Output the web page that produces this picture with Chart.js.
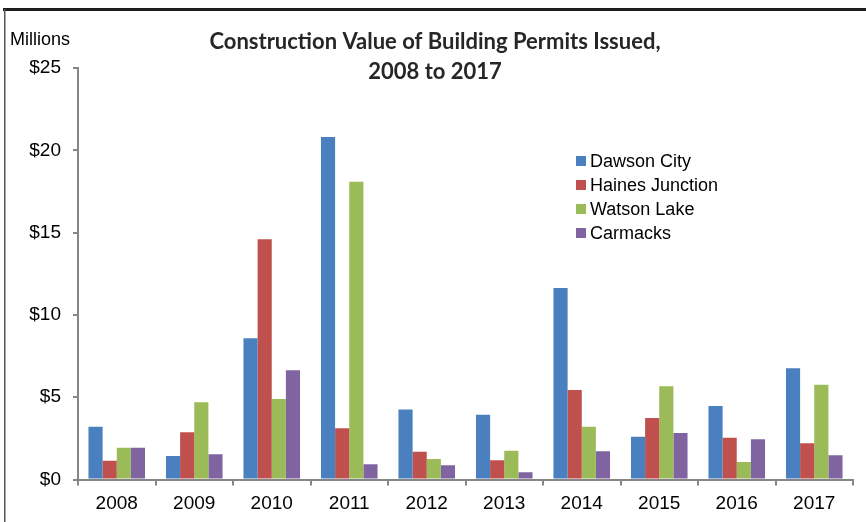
<!DOCTYPE html>
<html>
<head>
<meta charset="utf-8">
<script src="https://cdn.jsdelivr.net/npm/chart.js@4.4.1/dist/chart.umd.min.js"></script>
<style>
  html, body { margin: 0; padding: 0; background: #fff; }
  #wrap { position: relative; width: 866px; height: 522px; }
</style>
</head>
<body>
<div id="wrap"><canvas id="myChart" width="866" height="522"></canvas></div>
<script>
// Data (millions of dollars)
const years = ["2008", "2009", "2010", "2011", "2012", "2013", "2014", "2015", "2016", "2017"];
const dawsonCity = [3.21, 1.43, 8.58, 20.81, 4.26, 3.94, 11.63, 2.60, 4.47, 6.76];
const hainesJunction = [1.14, 2.87, 14.59, 3.11, 1.69, 1.17, 5.44, 3.74, 2.54, 2.20];
const watsonLake = [1.93, 4.69, 4.89, 18.09, 1.25, 1.75, 3.21, 5.66, 1.06, 5.76];
const carmacks = [1.93, 1.53, 6.63, 0.92, 0.86, 0.44, 1.71, 2.83, 2.44, 1.47];
const yTicks = [0, 5, 10, 15, 20, 25];
const titleLines = ["Construction Value of Building Permits Issued,", "2008 to 2017"];

const axisGray = "#868686";
const tickFont = { family: "'Liberation Sans', Arial, sans-serif", size: 19 };

// Frame, title, "Millions" and the legend are drawn here
const extrasPlugin = {
  id: "extras",
  beforeDraw(chart) {
    const c = chart.ctx;
    c.save();
    c.fillStyle = "#fff";
    c.fillRect(0, 0, chart.width, chart.height);
    // frame lines (top and left only)
    c.fillStyle = "#1c1c1c";
    c.fillRect(3, 8, chart.width - 3, 3);
    c.fillStyle = "#555";
    c.fillRect(4, 9, 1.5, chart.height - 9);
    c.restore();
  },
  afterDraw(chart) {
    const c = chart.ctx;
    c.save();
    // title
    c.fillStyle = "#262626";
    c.textAlign = "center";
    c.textBaseline = "middle";
    c.font = "bold 22px Lato, 'Open Sans', sans-serif";
    c.fillText(titleLines[0], 435, 42);
    c.fillText(titleLines[1], 435, 72);
    // units label
    c.fillStyle = "#000";
    c.textAlign = "left";
    c.font = "18px 'Liberation Sans', Arial, sans-serif";
    c.fillText("Millions", 10, 40);
    // legend
    c.font = "18px 'Liberation Sans', Arial, sans-serif";
    chart.data.datasets.forEach(function (ds, i) {
      const y = 161 + i * 24;
      c.fillStyle = ds.backgroundColor;
      c.fillRect(576, y - 5, 10, 10);
      c.fillStyle = "#000";
      c.fillText(ds.label, 590, y + 1);
    });
    c.restore();
  }
};

const ctx = document.getElementById("myChart");
const myChart = new Chart(ctx, {
  type: "bar",
  data: {
    labels: years,
    datasets: [
      { label: "Dawson City", data: dawsonCity, backgroundColor: "#4a7fc0" },
      { label: "Haines Junction", data: hainesJunction, backgroundColor: "#c0504d" },
      { label: "Watson Lake", data: watsonLake, backgroundColor: "#9bbb59" },
      { label: "Carmacks", data: carmacks, backgroundColor: "#8064a2" }
    ]
  },
  options: {
    responsive: false,
    animation: false,
    devicePixelRatio: 1,
    layout: { padding: { top: 68, right: 13, left: 0, bottom: 0 } },
    datasets: { bar: { categoryPercentage: 0.73, barPercentage: 1.0, borderWidth: 0 } },
    plugins: {
      legend: { display: false },
      title: { display: false },
      tooltip: { enabled: false }
    },
    scales: {
      x: {
        afterFit: function (s) { s.height = 42.5; },
        grid: { offset: true, drawOnChartArea: false, drawTicks: true, tickLength: 6, color: axisGray, lineWidth: 2 },
        border: { color: axisGray, width: 2 },
        ticks: { color: "#000", font: tickFont, padding: 7, maxRotation: 0 }
      },
      y: {
        min: 0,
        max: 25,
        afterFit: function (s) { s.width = 78; },
        afterBuildTicks: function (s) { s.ticks = yTicks.map(function (v) { return { value: v }; }); },
        grid: { drawOnChartArea: false, drawTicks: true, tickLength: 5, color: axisGray, lineWidth: 2 },
        border: { color: axisGray, width: 2 },
        ticks: {
          color: "#000",
          font: tickFont,
          padding: 12,
          callback: function (v) { return "$" + v; }
        }
      }
    }
  },
  plugins: [extrasPlugin]
});
</script>
</body>
</html>
